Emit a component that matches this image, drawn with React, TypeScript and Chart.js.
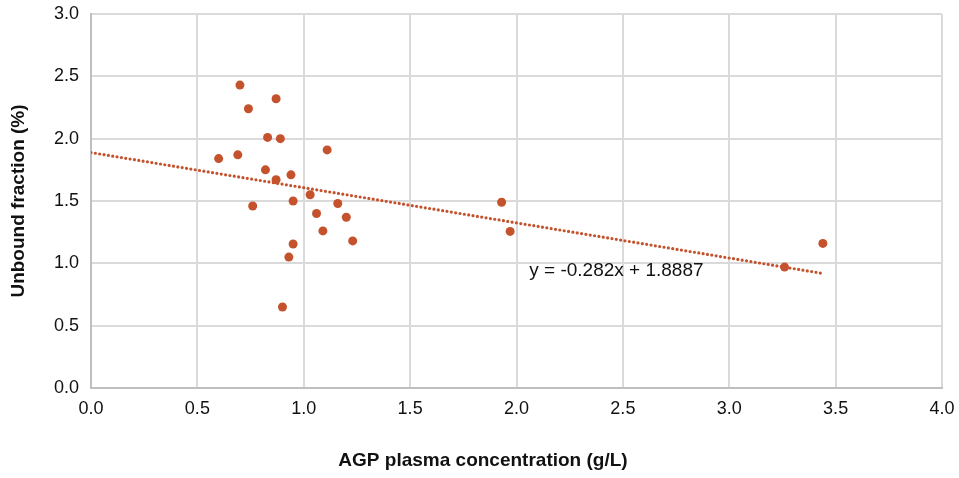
import React, { useEffect, useRef } from "react";
import { Chart, registerables } from "chart.js";

Chart.register(...registerables);

// AGP plasma concentration (g/L) per subject
const agpConcentration = [
  0.70, 0.87, 0.74, 0.83, 0.89, 1.11, 0.60, 0.69, 0.82, 0.94, 0.87, 1.03, 0.95,
  1.16, 0.76, 1.06, 1.20, 1.09, 1.23, 0.95, 0.93, 0.90, 1.93, 1.97, 3.26, 3.44,
];
// Unbound fraction (%) per subject
const unboundFraction = [
  2.43, 2.32, 2.24, 2.01, 2.00, 1.91, 1.84, 1.87, 1.75, 1.71, 1.67, 1.55, 1.50,
  1.48, 1.46, 1.40, 1.37, 1.26, 1.18, 1.155, 1.05, 0.65, 1.49, 1.256, 0.97, 1.16,
];

// Linear trend line y = slope * x + intercept
const trendSlope = -0.282;
const trendIntercept = 1.8887;
const trendLabel = "y = -0.282x + 1.8887";
const trendLabelAt = { x: 2.06, y: 0.94 };

const xTicks = [0, 0.5, 1, 1.5, 2, 2.5, 3, 3.5, 4];
const yTicks = [0, 0.5, 1, 1.5, 2, 2.5, 3];

const MARK = "#C4522C";
const GRID = "#dadada";
const AXIS = "#bfbfbf";
const FONT = "'Liberation Sans', Arial, sans-serif";

const trendTextPlugin = {
  id: "trendText",
  afterDatasetsDraw(chart: any) {
    const { ctx, scales } = chart;
    const px = scales.x.getPixelForValue(trendLabelAt.x);
    const py = scales.y.getPixelForValue(trendLabelAt.y);
    ctx.save();
    ctx.font = `19px ${FONT}`;
    ctx.fillStyle = "#111";
    ctx.textAlign = "left";
    ctx.textBaseline = "middle";
    ctx.fillText(trendLabel, px, py);
    ctx.restore();
  },
};

export default function App() {
  const canvasRef = useRef<HTMLCanvasElement | null>(null);

  useEffect(() => {
    if (!canvasRef.current) return;
    const points = agpConcentration.map((x, i) => ({ x, y: unboundFraction[i] }));
    const xEnd = Math.max(...agpConcentration);
    const trend = [
      { x: 0, y: trendIntercept },
      { x: xEnd, y: trendSlope * xEnd + trendIntercept },
    ];

    const chart = new Chart(canvasRef.current, {
      type: "scatter",
      data: {
        datasets: [
          {
            label: "Unbound fraction",
            data: points,
            backgroundColor: MARK,
            borderWidth: 0,
            pointRadius: 4.5,
            order: 0,
          },
          {
            type: "line",
            label: "Linear trend",
            data: trend,
            borderColor: MARK,
            borderWidth: 3.2,
            borderDash: [0, 4.4],
            borderCapStyle: "round",
            pointRadius: 0,
            fill: false,
            order: 1,
          } as any,
        ],
      },
      options: {
        responsive: false,
        animation: false,
        layout: { padding: { left: 24, top: 14, right: 17, bottom: 0 } },
        plugins: {
          legend: { display: false },
          tooltip: { enabled: false },
          title: {
            display: true,
            position: "bottom",
            text: "AGP plasma concentration (g/L)",
            color: "#111",
            font: { family: FONT, size: 19, weight: "bold", lineHeight: 1.2 },
            padding: { top: 0, bottom: 6 },
          },
        },
        scales: {
          x: {
            type: "linear",
            min: 0,
            max: 4,
            afterBuildTicks: (scale: any) => {
              scale.ticks = xTicks.map((value) => ({ value }));
            },
            afterFit: (scale: any) => {
              scale.height = 478 - 388 - 22.8 - 6;
              scale.paddingLeft = 0;
              scale.paddingRight = 0;
            },
            grid: { color: GRID, lineWidth: 2, drawTicks: false },
            border: { color: AXIS, width: 2 },
            ticks: {
              padding: 10,
              color: "#111",
              font: { family: FONT, size: 18 },
              callback: (v: any) => Number(v).toFixed(1),
            },
          },
          y: {
            type: "linear",
            min: 0,
            max: 3,
            afterBuildTicks: (scale: any) => {
              scale.ticks = yTicks.map((value) => ({ value }));
            },
            afterFit: (scale: any) => {
              scale.width = 67;
              scale.paddingTop = 0;
              scale.paddingBottom = 0;
            },
            grid: { color: GRID, lineWidth: 2, drawTicks: false },
            border: { color: AXIS, width: 2 },
            ticks: {
              padding: 12,
              color: "#111",
              font: { family: FONT, size: 18 },
              callback: (v: any) => Number(v).toFixed(1),
            },
            title: {
              display: true,
              text: "Unbound fraction (%)",
              color: "#111",
              font: { family: FONT, size: 19, weight: "bold", lineHeight: 1.2 },
              padding: { top: -17, bottom: 0 },
            },
          },
        },
      },
      plugins: [trendTextPlugin],
    });

    return () => chart.destroy();
  }, []);

  return (
    <div style={{ position: "absolute", left: 0, top: 0, width: 959, height: 478, background: "#fff" }}>
      <canvas ref={canvasRef} width={959} height={478} />
    </div>
  );
}
